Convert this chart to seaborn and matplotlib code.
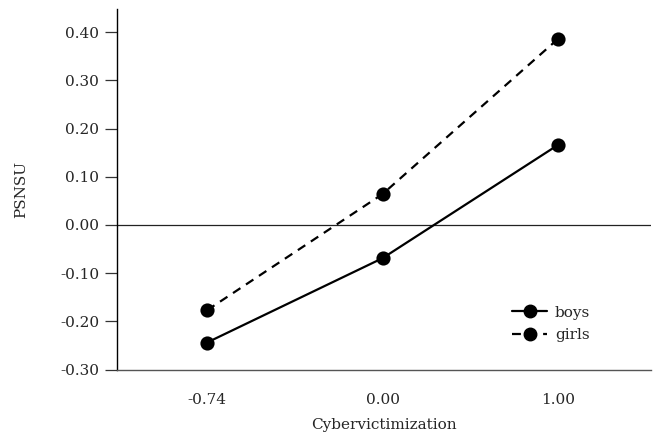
import pandas as pd
import seaborn as sns
import matplotlib.pyplot as plt
from matplotlib.lines import Line2D

# values
cv_levels = ['-0.74', '0.00', '1.00']
boys = [-0.244, -0.069, 0.166]
girls = [-0.177, 0.064, 0.386]
y_ticks = [-0.30, -0.20, -0.10, 0.00, 0.10, 0.20, 0.30, 0.40]

df = pd.DataFrame({
    'cv': cv_levels * 2,
    'psnsu': boys + girls,
    'sex': ['boys'] * 3 + ['girls'] * 3,
})

sns.set_style('ticks')
plt.rcParams['font.family'] = ['DejaVu Serif']

fig = plt.figure(figsize=(6.59, 4.42), dpi=100)
ax = fig.add_axes([0.1768, 0.164, 0.8111, 0.8156])

dash = (0, (4, 3))
sns.pointplot(data=df, x='cv', y='psnsu', hue='sex', order=cv_levels,
              hue_order=['boys', 'girls'], palette=['black', 'black'],
              markers=['o', 'o'], linestyles=['-', '--'], errorbar=None,
              markersize=9, linewidth=1.6, legend=False, ax=ax)
ax.lines[1].set_linestyle(dash)

ax.axhline(0, color='#222222', lw=0.9, zorder=0)

ax.set_xlim(-0.516, 2.53)
ax.set_ylim(-0.30, 0.448)
ax.set_yticks(y_ticks)
ax.set_yticklabels([f'{v:.2f}' for v in y_ticks])

for s in ['top', 'right']:
    ax.spines[s].set_visible(False)
ax.spines['left'].set_color('black')
ax.spines['left'].set_linewidth(1.0)
ax.spines['bottom'].set_color('#555555')
ax.spines['bottom'].set_linewidth(1.0)

ax.tick_params(axis='y', length=8.6, width=0.9, pad=4, labelsize=11, color='#333333')
ax.tick_params(axis='x', length=0, pad=17, labelsize=11)

ax.set_xlabel('Cybervictimization', fontsize=11, labelpad=8)
ax.set_ylabel('PSNSU', fontsize=11, labelpad=23)

handles = [
    Line2D([], [], color='black', lw=1.6, marker='o', markersize=9),
    Line2D([], [], color='black', lw=1.6, ls=dash, marker='o', markersize=9),
]
ax.legend(handles, ['boys', 'girls'], loc='center left', bbox_to_anchor=(0.74, 0.127),
          frameon=False, fontsize=11, borderpad=0, borderaxespad=0,
          handlelength=2.3, handletextpad=0.5, labelspacing=0.55)

fig.savefig('out.png', dpi=100)
